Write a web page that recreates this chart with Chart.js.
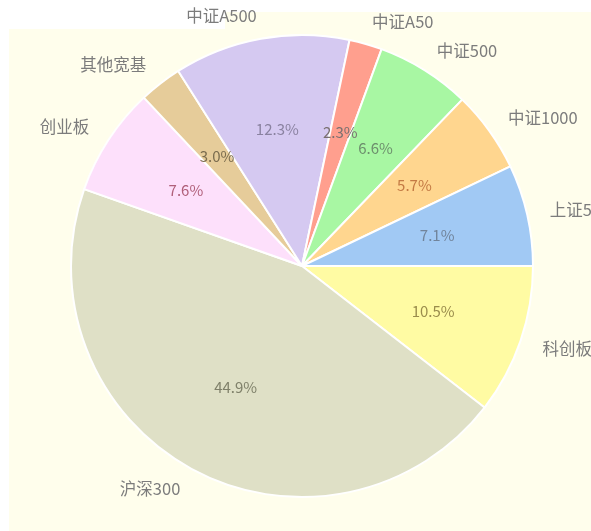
<!DOCTYPE html>
<html>
<head>
<meta charset="utf-8">
<script src="https://cdn.jsdelivr.net/npm/chart.js@4/dist/chart.umd.min.js"></script>
<style>
  html, body { margin: 0; padding: 0; background: #ffffff; }
  .wrap { width: 591px; height: 531px; position: relative; }
</style>
</head>
<body>
<div class="wrap"><canvas id="myChart" width="591" height="531"></canvas></div>
<script>
// data (clockwise from 3 o'clock)
const labels = ['科创板', '沪深300', '创业板', '其他宽基', '中证A500', '中证A50', '中证500', '中证1000', '上证50'];
const shares = [10.5, 44.9, 7.6, 3.0, 12.3, 2.3, 6.6, 5.7, 7.1];

const sliceColors = ['#fffba3', '#dfe0c6', '#fde0fb', '#e6cc9a', '#d5c9f1', '#ff9f8e', '#a8f7a3', '#ffd68f', '#a1c9f4'];
const pctColors = ['#9a8c4c', '#7f806a', '#b0607a', '#7a6c4e', '#8a82a0', '#7a7070', '#6d8f6d', '#c47a44', '#71849b'];

// background
const bgPlugin = {
  id: 'bg',
  beforeDraw(chart) {
    const c = chart.ctx;
    c.save();
    c.fillStyle = '#ffffff';
    c.fillRect(0, 0, chart.width, chart.height);
    c.fillStyle = '#fffeec';
    c.fillRect(9, 12, chart.width - 9, chart.height - 12);
    c.fillStyle = '#ffffff';
    c.fillRect(0, 0, 225, 29);
    c.restore();
  }
};

// outside labels + inside percentages
const labelPlugin = {
  id: 'pieLabels',
  afterDatasetsDraw(chart) {
    const c = chart.ctx;
    const meta = chart.getDatasetMeta(0);
    c.save();
    c.textBaseline = 'middle';
    meta.data.forEach(function (arc, i) {
      const mid = (arc.startAngle + arc.endAngle) / 2;
      const r = arc.outerRadius;
      const cos = Math.cos(mid);
      const sin = Math.sin(mid);

      c.font = '16.5px "Noto Sans CJK SC", "Noto Sans", sans-serif';
      c.fillStyle = '#7c7c7c';
      c.textAlign = cos < 0 ? 'right' : 'left';
      c.fillText(labels[i], arc.x + cos * r * 1.1, arc.y + sin * r * 1.1);

      c.font = '15px "Noto Sans CJK SC", "Noto Sans", sans-serif';
      c.fillStyle = pctColors[i];
      c.textAlign = 'center';
      c.fillText(shares[i].toFixed(1) + '%', arc.x + cos * r * 0.6, arc.y + sin * r * 0.6);
    });
    c.restore();
  }
};

const ctx = document.getElementById('myChart').getContext('2d');

// eslint-disable-next-line
const chart = new Chart(ctx, {
  type: 'pie',
  data: {
    labels: labels,
    datasets: [
      {
        data: shares,
        backgroundColor: sliceColors,
        borderColor: '#ffffff',
        borderWidth: 2,
      },
    ],
  },
  options: {
    responsive: false,
    animation: false,
    rotation: 90,
    layout: { padding: { left: 70, right: 57, top: 34, bottom: 33 } },
    plugins: {
      legend: { display: false },
      tooltip: { enabled: false },
    },
  },
  plugins: [bgPlugin, labelPlugin],
});
</script>
</body>
</html>
